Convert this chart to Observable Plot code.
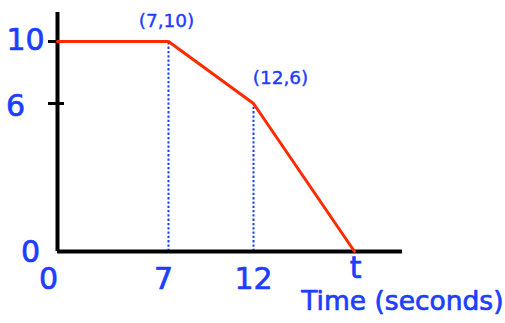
<!DOCTYPE html>
<html>
<head>
<meta charset="utf-8">
<script src="https://cdn.jsdelivr.net/npm/d3@7"></script>
<script src="https://cdn.jsdelivr.net/npm/@observablehq/plot@0.6"></script>
<style>
  html, body { margin: 0; padding: 0; background: #fff; }
  #chart svg { display: block; }
</style>
</head>
<body>
<div id="chart"></div>
<script>
// ---- data ----
const times = [0, 7, 12, 18];          // seconds; last one is the unknown "t"
const velocities = [10, 10, 6, 0];
const xTickValues = [0, 7, 12, 18];
const xTickLabels = ["0", "7", "12", "t"];
const yTickValues = [0, 6, 10];
const yTickLabels = ["0", "6", "10"];
const pointLabels = ["(7,10)", "(12,6)"];
const pointLabelIndex = [1, 2];
const xAxisLabel = "Time (seconds)";
const xAxisEnd = 20.85;
const yAxisEnd = 12;

// ---- style ----
const blue = "#1d3dff";
const red = "#ff2a00";
const font = "'Comic Sans MS', 'DejaVu Sans', sans-serif";

const path = times.map((t, i) => ({t, v: velocities[i]}));
const drops = pointLabelIndex.map(i => ({t: times[i], v: velocities[i]}));

const xLabelOffsets = [[-9, 28], [-5, 28], [0, 28], [1, 17]];
const yLabelOffsets = [[-27, 1], [-42, 3], [-32, -1]];
const pointLabelOffsets = [[-2, -20], [27, -25]];

const textStyle = {fill: blue, stroke: blue, strokeWidth: 0.7, fontFamily: font, textAnchor: "middle", lineAnchor: "middle"};

const marks = [
  // dotted drop lines
  Plot.ruleX(drops, {x: "t", y1: 0, y2: "v", stroke: blue, strokeWidth: 2, strokeDasharray: "2.3,2"}),
  // axes
  Plot.ruleY([0], {x1: 0, x2: xAxisEnd, stroke: "#000", strokeWidth: 4}),
  Plot.ruleX([0], {y1: 0, y2: yAxisEnd, stroke: "#000", strokeWidth: 4, insetBottom: -2}),
  // y ticks
  Plot.ruleY(yTickValues.filter(v => v !== 0), {x1: 0, x2: 0, insetLeft: -9, insetRight: -7, stroke: "#000", strokeWidth: 3}),
  // velocity line
  Plot.line(path, {x: "t", y: "v", stroke: red, strokeWidth: 3}),
  // x tick labels
  ...xTickValues.map((v, i) => Plot.text([v], {
    ...textStyle, x: d => d, y: 0, text: () => xTickLabels[i],
    dx: xLabelOffsets[i][0], dy: xLabelOffsets[i][1], fontSize: 30
  })),
  // y tick labels
  ...yTickValues.map((v, i) => Plot.text([v], {
    ...textStyle, x: 0, y: d => d, text: () => yTickLabels[i],
    dx: yLabelOffsets[i][0], dy: yLabelOffsets[i][1], fontSize: 30
  })),
  // point labels
  ...pointLabelIndex.map((idx, i) => Plot.text([idx], {
    ...textStyle, strokeWidth: 0.4, x: d => times[d], y: d => velocities[d], text: () => pointLabels[i],
    dx: pointLabelOffsets[i][0], dy: pointLabelOffsets[i][1], fontSize: 18.5
  })),
  // axis label
  Plot.text([xAxisLabel], {
    ...textStyle, frameAnchor: "bottom-right", text: d => d, dx: -2, dy: -14,
    fontSize: 26.5, textAnchor: "end", lineAnchor: "bottom"
  })
];

const chart = Plot.plot({
  width: 505,
  height: 323,
  margin: 0,
  style: {background: "#fff", overflow: "visible"},
  x: {type: "linear", domain: [0, 7, 12, 18], range: [57, 168, 253, 354], axis: null},
  y: {type: "linear", domain: [0, 6, 10], range: [251, 103, 41], axis: null},
  marks
});
document.getElementById("chart").appendChild(chart);
</script>
</body>
</html>
